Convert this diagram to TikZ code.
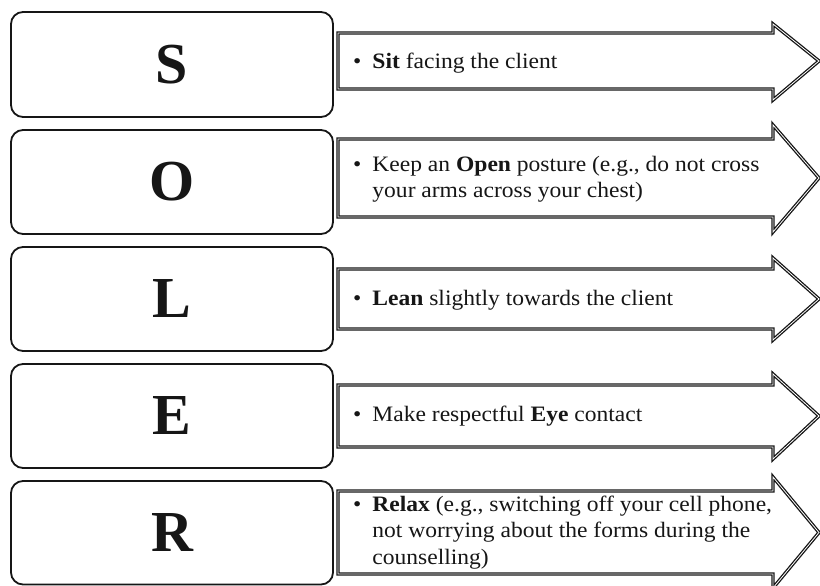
\documentclass[tikz,border=0pt]{standalone}
\usepackage{fontspec}
\setmainfont{Liberation Serif}
\newfontfamily\notefont{Liberation Serif}[FakeStretch=1.07]
\begin{document}
\begin{tikzpicture}[x=1pt,y=-1pt,
  letterbox/.style={draw=ink,line width=1.8pt,rounded corners=12pt,fill=white},
  letter/.style={font=\fontsize{58}{60}\selectfont\bfseries,text=ink,inner sep=0pt},
  arrowshape/.style={draw=ink,line width=1.3pt,double=white,double distance=0.8pt,line join=miter,fill=white},
  bullettext/.style={anchor=west,inner sep=0pt,text=ink,font=\notefont\fontsize{22}{26.5}\selectfont}]
\definecolor{ink}{HTML}{161616}
\useasboundingbox (0,0) rectangle (820,586);

% one row per letter: rounded box on the left, block arrow with its note on the right
% S
\draw[letterbox] (11,12) rectangle (333,117);
\node[letter] (S) at (172,64.5) {S};
\draw[arrowshape] (338,33) -- (773,33) -- (773,24) -- (819,61) -- (773,100) -- (773,89) -- (338,89) -- cycle;
\node[bullettext] (tS) at (353,63) {\begin{tabular}{@{}l@{\hspace{11pt}}l@{}}•&\textbf{Sit} facing the client\end{tabular}};

% O
\draw[letterbox] (11,130) rectangle (333,234);
\node[letter] (O) at (172,182) {O};
\draw[arrowshape] (338,139) -- (773,139) -- (773,125) -- (819,178) -- (773,232) -- (773,217) -- (338,217) -- cycle;
\node[bullettext] (tO) at (353,179) {\begin{tabular}{@{}l@{\hspace{11pt}}l@{}}•&Keep an \textbf{Open} posture (e.g., do not cross\\&your arms across your chest)\end{tabular}};

% L
\draw[letterbox] (11,247) rectangle (333,351);
\node[letter] (L) at (172,299) {L};
\draw[arrowshape] (338,269) -- (773,269) -- (773,258) -- (819,299) -- (773,340) -- (773,329) -- (338,329) -- cycle;
\node[bullettext] (tL) at (353,300) {\begin{tabular}{@{}l@{\hspace{11pt}}l@{}}•&\textbf{Lean} slightly towards the client\end{tabular}};

% E
\draw[letterbox] (11,364) rectangle (333,468);
\node[letter] (E) at (172,416) {E};
\draw[arrowshape] (338,385) -- (773,385) -- (773,374) -- (819,416) -- (773,459) -- (773,447) -- (338,447) -- cycle;
\node[bullettext] (tE) at (353,416) {\begin{tabular}{@{}l@{\hspace{11pt}}l@{}}•&Make respectful \textbf{Eye} contact\end{tabular}};

% R
\draw[letterbox] (11,481) rectangle (333,584.5);
\node[letter] (R) at (172,533) {R};
\draw[arrowshape] (338,491) -- (773,491) -- (773,477) -- (819,532.5) -- (773,588) -- (773,574) -- (338,574) -- cycle;
\node[bullettext] (tR) at (353,532.5) {\begin{tabular}{@{}l@{\hspace{11pt}}l@{}}•&\textbf{Relax} (e.g., switching off your cell phone,\\&not worrying about the forms during the\\&counselling)\end{tabular}};
\end{tikzpicture}
\end{document}
